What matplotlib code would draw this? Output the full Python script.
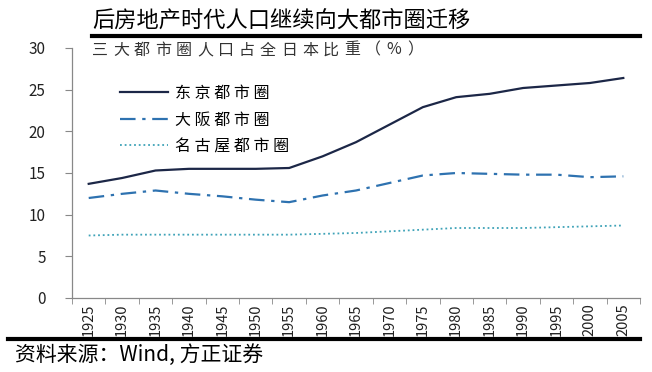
import matplotlib.pyplot as plt
import numpy as np

plt.rcParams["font.family"] = ["Noto Sans CJK SC", "DejaVu Sans"]

years = ["1925", "1930", "1935", "1940", "1945", "1950", "1955", "1960", "1965",
         "1970", "1975", "1980", "1985", "1990", "1995", "2000", "2005"]
tokyo = [13.7, 14.4, 15.3, 15.5, 15.5, 15.5, 15.6, 17.0, 18.7,
         20.8, 22.9, 24.1, 24.5, 25.2, 25.5, 25.8, 26.4]
osaka = [12.0, 12.5, 12.9, 12.5, 12.2, 11.8, 11.5, 12.3, 12.9,
         13.8, 14.7, 15.0, 14.9, 14.8, 14.8, 14.5, 14.6]
nagoya = [7.5, 7.6, 7.6, 7.6, 7.6, 7.6, 7.6, 7.7, 7.8,
          8.0, 8.2, 8.4, 8.4, 8.4, 8.5, 8.6, 8.7]
series_names = ["东京都市圈", "大阪都市圈", "名古屋都市圈"]
yticks = [0, 5, 10, 15, 20, 25, 30]

title = "后房地产时代人口继续向大都市圈迁移"
subtitle = "三大都市圈人口占全日本比重（%）"
source = "资料来源：Wind, 方正证券"


def spaced(s):
    # the reference uses a wide-set Song face; fake it with spaces
    return " ".join(s)


W, H = 652, 372
fig = plt.figure(figsize=(W / 100, H / 100), dpi=100)
ax = fig.add_axes([72 / W, 1 - 298 / H, (640 - 72) / W, (298 - 48) / H])

x = np.arange(len(years))
ax.plot(x, tokyo, color="#1c2747", lw=1.6, label=spaced(series_names[0]))
ax.plot(x, osaka, color="#2e72b0", lw=1.6, dashes=(7, 3, 1.5, 3), label=spaced(series_names[1]))
ax.plot(x, nagoya, color="#3fa3b8", lw=1.3, linestyle=(0, (1, 1.6)), label=spaced(series_names[2]))

ax.set_xlim(-0.5, len(years) - 0.5)
ax.set_ylim(0, 30)
ax.set_yticks(yticks)
ax.set_yticklabels([str(v) for v in yticks], fontsize=11, color="#222222")
ax.set_xticks(x)
ax.set_xticklabels(years, rotation=90, fontsize=10.5, color="#222222")
ax.set_xticks(np.arange(len(years) + 1) - 0.5, minor=True)
ax.tick_params(axis="x", which="major", length=0, pad=4)
ax.tick_params(axis="x", which="minor", length=4, color="#888888")
ax.tick_params(axis="y", length=5, color="#888888", pad=14)

for side in ["top", "right"]:
    ax.spines[side].set_visible(False)
for side in ["left", "bottom"]:
    ax.spines[side].set_color("#888888")
    ax.spines[side].set_linewidth(0.9)

ax.legend(loc="upper left", bbox_to_anchor=(0.06, 0.91), frameon=False,
          fontsize=11.5, handlelength=3.0, labelspacing=0.6, handletextpad=0.4)

fig.text(92 / W, 1 - 20 / H, title, fontsize=16, va="center", ha="left", style="italic")
fig.add_artist(plt.Line2D([92 / W, 640 / W], [1 - 36 / H, 1 - 36 / H], color="black", lw=3))
# subtitle set one glyph at a time at a wide pitch, like the reference
for i, ch in enumerate(subtitle):
    fig.text((92 + 21 * i) / W, 1 - 50 / H, ch, fontsize=11.5, va="center", ha="left",
             color="#333333")
fig.add_artist(plt.Line2D([8 / W, 640 / W], [1 - 339 / H, 1 - 339 / H], color="black", lw=3))
fig.text(15 / W, 1 - 355 / H, source, fontsize=15, va="center", ha="left", style="italic")

fig.savefig("out.png", dpi=100, facecolor="white")
